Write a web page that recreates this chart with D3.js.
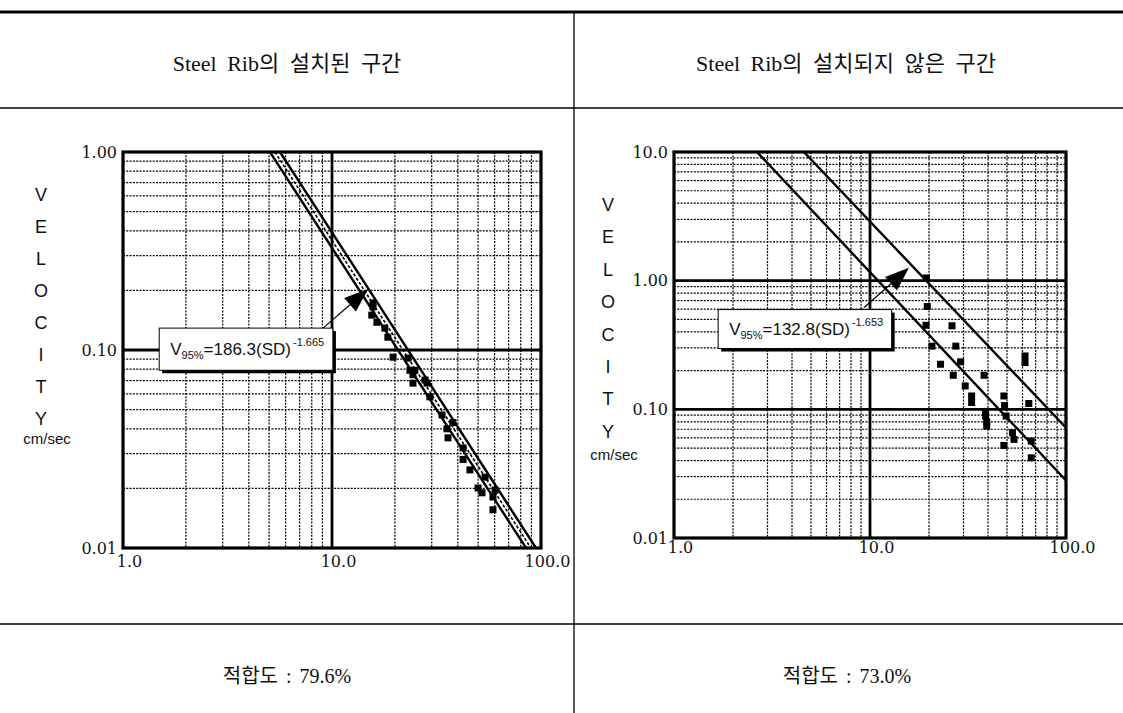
<!DOCTYPE html>
<html>
<head>
<meta charset="utf-8">
<script src="https://cdn.jsdelivr.net/npm/d3@7"></script>
<style>
  body { margin: 0; background: #fff; }
  svg { display: block; }
  .tick-label text { font-family: "DejaVu Serif", "Liberation Serif", serif; font-size: 16px; fill: #111; }
  .letter { font-family: "Liberation Sans", Arial, sans-serif; font-size: 18px; fill: #111; }
  .unit { font-family: "Liberation Sans", Arial, sans-serif; font-size: 15px; fill: #111; }
  .eq { font-family: "Liberation Sans Narrow", "Liberation Sans", Arial, sans-serif; font-size: 17px; fill: #111; }
  .title { font-family: "Liberation Serif", "Noto Sans CJK KR", serif; font-size: 22px; fill: #111; word-spacing: 5px; }
  .fit { font-family: "Liberation Serif", "Noto Sans CJK KR", serif; font-size: 20px; fill: #111; word-spacing: 3px; }
</style>
</head>
<body>
<svg id="chart" width="1123" height="713"></svg>
<script>
// ---- data ----
const panelTitles = ['Steel Rib의 설치된 구간', 'Steel Rib의 설치되지 않은 구간'];
const fitLabels = ['적합도 : 79.6%', '적합도 : 73.0%'];
const axisLetters = ['V', 'E', 'L', 'O', 'C', 'I', 'T', 'Y'];
const unitLabel = 'cm/sec';

const xTickValues = [1, 10, 100];
const xTickLabels = ['1.0', '10.0', '100.0'];
const leftYTickValues = [1, 0.1, 0.01];
const leftYTickLabels = ['1.00', '0.10', '0.01'];
const rightYTickValues = [10, 1, 0.1, 0.01];
const rightYTickLabels = ['10.0', '1.00', '0.10', '0.01'];

// [SD, velocity]
const leftPoints = [
  [15.7, 0.173], [15.7, 0.165], [15.5, 0.150], [16.4, 0.138], [17.9, 0.129], [18.5, 0.116],
  [19.6, 0.092], [23.1, 0.091], [23.6, 0.079], [24.4, 0.075], [24.9, 0.079], [24.4, 0.068],
  [27.9, 0.0705], [28.5, 0.068], [29.4, 0.058], [33.6, 0.047], [37.9, 0.043], [35.5, 0.040],
  [35.9, 0.036], [42.4, 0.032], [42.4, 0.028], [45.7, 0.0248], [54.0, 0.0228], [50.0, 0.0201],
  [52.2, 0.019], [60.3, 0.0196], [58.9, 0.0181], [58.9, 0.0156]
];
const rightPoints = [
  [19.4, 1.05], [19.6, 0.63], [19.3, 0.45], [20.7, 0.31], [26.2, 0.446], [27.4, 0.31],
  [22.9, 0.224], [26.6, 0.184], [29.0, 0.234], [30.6, 0.152], [33.0, 0.127], [33.0, 0.113],
  [38.2, 0.184], [38.9, 0.095], [38.9, 0.0887], [39.4, 0.080], [39.4, 0.0741], [48.2, 0.127],
  [48.6, 0.107], [49.5, 0.0887], [53.3, 0.0658], [54.3, 0.0584], [48.2, 0.0524], [61.8, 0.26],
  [61.8, 0.231], [64.6, 0.111], [66.5, 0.0566], [66.5, 0.042]
];

const leftLowerLine = [[5.05, 1], [84.8, 0.01]];
const leftMeanLine = [[5.33, 1], [89.5, 0.01]];
const leftUpperLine = [[5.64, 1], [94.6, 0.01]];
const rightLowerLine = [[2.65, 10], [100, 0.028]];
const rightUpperLine = [[4.6, 10], [100, 0.072]];

const leftEquation = { coef: '186.3', exp: '-1.665' };
const rightEquation = { coef: '132.8', exp: '-1.653' };

class LogPanel {
  constructor(config, points, solidLines, dashedLines, equation) {
    this.config = config;
    this.points = points;
    this.solidLines = solidLines;
    this.dashedLines = dashedLines;
    this.equation = equation;
    this.initPanel();
    this.renderPanel();
  }
  initPanel() {
    const p = this;
    const c = p.config;
    p.xScale = d3.scaleLog().domain(c.xDomain).range([c.left, c.right]);
    p.yScale = d3.scaleLog().domain(c.yDomain).range([c.bottom, c.top]);
    p.g = c.svg.append('g');
    p.clipId = 'clip-' + c.id;
    p.g.append('clipPath').attr('id', p.clipId)
      .append('rect')
      .attr('x', c.left).attr('y', c.top)
      .attr('width', c.right - c.left).attr('height', c.bottom - c.top);
  }
  renderPanel() {
    const p = this;
    const c = p.config;
    const isDecade = v => Math.abs(Math.log10(v) - Math.round(Math.log10(v))) < 1e-9;
    const xMinor = p.xScale.ticks().filter(v => !isDecade(v));
    const yMinor = p.yScale.ticks().filter(v => !isDecade(v));
    const xMajor = p.xScale.ticks().filter(v => isDecade(v) && v > c.xDomain[0] && v < c.xDomain[1]);
    const yMajor = p.yScale.ticks().filter(v => isDecade(v) && v > c.yDomain[0] && v < c.yDomain[1]);

    // dotted minor grid
    p.g.append('g').selectAll('line').data(xMinor).join('line')
      .attr('x1', d => p.xScale(d)).attr('x2', d => p.xScale(d))
      .attr('y1', c.top).attr('y2', c.bottom)
      .attr('stroke', '#000').attr('stroke-width', 1.2).attr('stroke-dasharray', '2,1.3');
    p.g.append('g').selectAll('line').data(yMinor).join('line')
      .attr('y1', d => p.yScale(d)).attr('y2', d => p.yScale(d))
      .attr('x1', c.left).attr('x2', c.right)
      .attr('stroke', '#000').attr('stroke-width', 1.2).attr('stroke-dasharray', '2,1.3');

    // heavy decade lines
    p.g.append('g').selectAll('line').data(xMajor).join('line')
      .attr('x1', d => p.xScale(d)).attr('x2', d => p.xScale(d))
      .attr('y1', c.top).attr('y2', c.bottom)
      .attr('stroke', '#000').attr('stroke-width', 2.8);
    p.g.append('g').selectAll('line').data(yMajor).join('line')
      .attr('y1', d => p.yScale(d)).attr('y2', d => p.yScale(d))
      .attr('x1', c.left).attr('x2', c.right)
      .attr('stroke', '#000').attr('stroke-width', 2.8);

    // fit lines
    const line = d3.line().x(d => p.xScale(d[0])).y(d => p.yScale(d[1]));
    const lines = p.g.append('g').attr('clip-path', `url(#${p.clipId})`);
    lines.selectAll('path.solid').data(p.solidLines).join('path')
      .attr('class', 'solid').attr('d', line)
      .attr('fill', 'none').attr('stroke', '#000').attr('stroke-width', 2.4);
    lines.selectAll('path.dash').data(p.dashedLines).join('path')
      .attr('class', 'dash').attr('d', line)
      .attr('fill', 'none').attr('stroke', '#000').attr('stroke-width', 1.6)
      .attr('stroke-dasharray', '3,2');

    // scatter squares
    p.g.append('g').selectAll('rect').data(p.points).join('rect')
      .attr('x', d => p.xScale(d[0]) - 3.5).attr('y', d => p.yScale(d[1]) - 3.5)
      .attr('width', 7).attr('height', 7).attr('fill', '#000');

    // equation box with shadow
    const b = c.box;
    const bx = p.xScale(b.x[0]), bx2 = p.xScale(b.x[1]);
    const by = p.yScale(b.y[1]), by2 = p.yScale(b.y[0]);
    p.g.append('rect').attr('x', bx + 3).attr('y', by + 3)
      .attr('width', bx2 - bx).attr('height', by2 - by).attr('fill', '#000');
    p.g.append('rect').attr('x', bx).attr('y', by)
      .attr('width', bx2 - bx).attr('height', by2 - by)
      .attr('fill', '#fff').attr('stroke', '#000').attr('stroke-width', 1);
    const t = p.g.append('text').attr('class', 'eq')
      .attr('x', bx + 11).attr('y', (by + by2) / 2 + 6);
    t.append('tspan').text('V');
    t.append('tspan').attr('font-size', 11).attr('dy', 4).text('95%');
    t.append('tspan').attr('dy', -4).text('=' + p.equation.coef + '(SD)');
    t.append('tspan').attr('font-size', 11).attr('dy', -9).attr('dx', 2).text(p.equation.exp);

    // arrow
    const a = c.arrow;
    const x1 = p.xScale(a.tail[0]), y1 = p.yScale(a.tail[1]);
    const x2 = p.xScale(a.tip[0]), y2 = p.yScale(a.tip[1]);
    const ang = Math.atan2(y2 - y1, x2 - x1);
    const hl = 24, hw = 9;
    const bxh = x2 - hl * Math.cos(ang), byh = y2 - hl * Math.sin(ang);
    p.g.append('line').attr('x1', x1).attr('y1', y1).attr('x2', bxh).attr('y2', byh)
      .attr('stroke', '#000').attr('stroke-width', 1.2);
    p.g.append('path')
      .attr('d', `M${x2},${y2}L${bxh - hw * Math.sin(ang)},${byh + hw * Math.cos(ang)}L${bxh + hw * Math.sin(ang)},${byh - hw * Math.cos(ang)}Z`)
      .attr('fill', '#000');

    // frame
    p.g.append('rect').attr('x', c.left).attr('y', c.top)
      .attr('width', c.right - c.left).attr('height', c.bottom - c.top)
      .attr('fill', 'none').attr('stroke', '#000').attr('stroke-width', 3.2);

    // axes (labels only)
    const yAxis = d3.axisLeft(p.yScale).tickValues(c.yTicks)
      .tickFormat((d, i) => c.yLabels[i]).tickSize(0).tickPadding(6);
    const yg = p.g.append('g').attr('class', 'tick-label')
      .attr('transform', `translate(${c.left},0)`).call(yAxis);
    yg.select('.domain').remove();
    const xAxis = d3.axisBottom(p.xScale).tickValues(xTickValues)
      .tickFormat((d, i) => xTickLabels[i]).tickSize(0).tickPadding(c.xPad);
    const xg = p.g.append('g').attr('class', 'tick-label')
      .attr('transform', `translate(${c.xShift},${c.bottom})`).call(xAxis);
    xg.select('.domain').remove();

    // stacked VELOCITY letters
    p.g.append('g').selectAll('text').data(axisLetters).join('text')
      .attr('class', 'letter').attr('text-anchor', 'middle').attr('dominant-baseline', 'central')
      .attr('x', c.letterX).attr('y', (d, i) => c.letterY0 + i * c.letterStep)
      .text(d => d);
    p.g.append('text').attr('class', 'unit').attr('text-anchor', 'middle')
      .attr('dominant-baseline', 'central')
      .attr('x', c.letterX + 6).attr('y', c.letterY0 + 7 * c.letterStep + c.unitGap)
      .text(unitLabel);
  }
}

const svg = d3.select('#chart');

// table rules
svg.append('line').attr('x1', 0).attr('x2', 1123).attr('y1', 12).attr('y2', 12)
  .attr('stroke', '#000').attr('stroke-width', 3);
svg.append('line').attr('x1', 0).attr('x2', 1123).attr('y1', 108).attr('y2', 108)
  .attr('stroke', '#000').attr('stroke-width', 1.5);
svg.append('line').attr('x1', 0).attr('x2', 1123).attr('y1', 624).attr('y2', 624)
  .attr('stroke', '#000').attr('stroke-width', 1.5);
svg.append('line').attr('x1', 574).attr('x2', 574).attr('y1', 12).attr('y2', 713)
  .attr('stroke', '#000').attr('stroke-width', 1.3);

svg.selectAll('text.title').data(panelTitles).join('text')
  .attr('class', 'title').attr('text-anchor', 'middle').attr('dominant-baseline', 'central')
  .attr('x', (d, i) => [287, 846][i]).attr('y', 63).text(d => d);
svg.selectAll('text.fit').data(fitLabels).join('text')
  .attr('class', 'fit').attr('text-anchor', 'middle').attr('dominant-baseline', 'central')
  .attr('x', (d, i) => [287, 847][i]).attr('y', 676).text(d => d);

new LogPanel({
  svg, id: 'left', left: 123, right: 541, top: 152, bottom: 548,
  xDomain: [1, 100], yDomain: [0.01, 1],
  yTicks: leftYTickValues, yLabels: leftYTickLabels, xPad: 8, xShift: 6,
  letterX: 41, letterY0: 195, letterStep: 32, unitGap: 19,
  box: { x: [1.49, 10.1], y: [0.079, 0.129] },
  arrow: { tail: [9.06, 0.129], tip: [14.9, 0.203] }
}, leftPoints, [leftLowerLine, leftUpperLine], [leftMeanLine], leftEquation);

new LogPanel({
  svg, id: 'right', left: 674, right: 1066, top: 152, bottom: 538,
  xDomain: [1, 100], yDomain: [0.01, 10],
  yTicks: rightYTickValues, yLabels: rightYTickLabels, xPad: 4, xShift: 6,
  letterX: 608, letterY0: 205, letterStep: 32.4, unitGap: 23,
  box: { x: [1.68, 12.9], y: [0.297, 0.596] },
  arrow: { tail: [9.33, 0.618], tip: [15.8, 1.26] }
}, rightPoints, [rightLowerLine, rightUpperLine], [], rightEquation);
</script>
</body>
</html>
